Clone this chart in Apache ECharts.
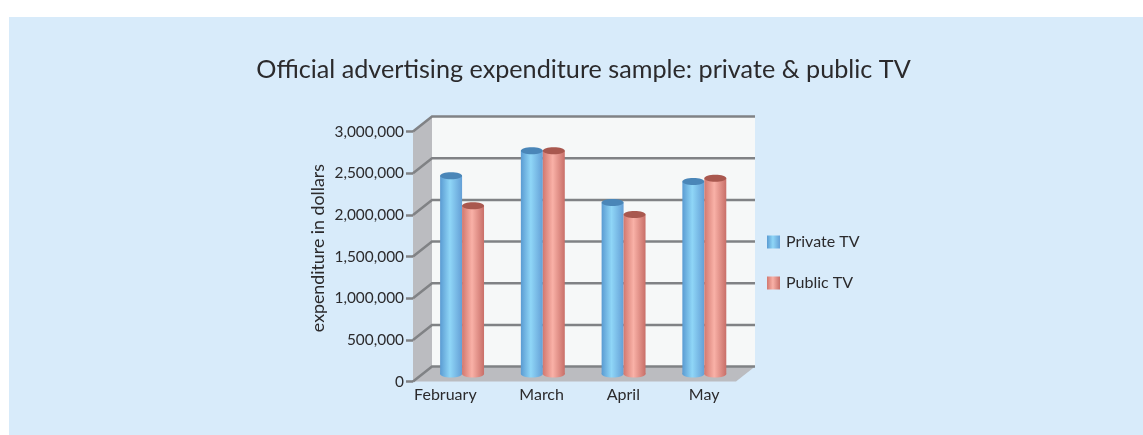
<!DOCTYPE html>
<html><head><meta charset="utf-8">
<style>html,body{margin:0;padding:0;background:#fff}#c{width:1143px;height:435px}</style>
<script src="https://cdn.jsdelivr.net/npm/echarts@6/dist/echarts.min.js"></script></head>
<body><div id="c"></div>
<script>
const titleText = 'Official advertising expenditure sample: private & public TV';
const yAxisName = 'expenditure in dollars';
const categories = ['February', 'March', 'April', 'May'];
const privateTV = [2380000, 2680000, 2060000, 2310000];
const publicTV = [2020000, 2680000, 1915000, 2350000];
const yTicks = [0, 500000, 1000000, 1500000, 2000000, 2500000, 3000000];

const FONT = 'Lato';
const INK = '#2b2a2c';
const DX = 19, DY = -15;           // depth of the 3D box
const grad = (a, b, c) => ({type:'linear',x:0,y:0,x2:1,y2:0,colorStops:[
  {offset:0,color:a},{offset:.45,color:b},{offset:1,color:c}]});
const blue = grad('#5a9bd2', '#8fd6f7', '#649fd6');
const red = grad('#d2786f', '#f9b1a7', '#c86f68');

function frameItem(params, api) {
  const cs = params.coordSys;
  const y = api.coord([0, api.value(0)])[1];
  const L = cs.x, R = cs.x + cs.width;
  const line = {stroke:'#808285', lineWidth:2.5, fill:null};
  const kids = [];
  if (params.dataIndex === 0) {
    const top = cs.y, bot = cs.y + cs.height;
    kids.push(
      {type:'rect', shape:{x:L+DX, y:top+DY, width:R-L, height:bot-top}, style:{fill:'#f6f8f8'}},
      {type:'polygon', shape:{points:[[L,top],[L+DX,top+DY],[L+DX,bot+DY],[L,bot]]}, style:{fill:'#bbbcc0'}},
      {type:'polygon', shape:{points:[[L,bot],[L+DX,bot+DY],[R+DX,bot+DY],[R,bot]]}, style:{fill:'#bbbcc0'}}
    );
  }
  kids.push({type:'polyline', shape:{points:[[L,y],[L+DX,y+DY],[R+DX,y+DY]]}, style:line});
  return {type:'group', children:kids};
}

function barItem(side, body, cap) {
  return function (params, api) {
    const p = api.coord([api.value(0), api.value(1)]);
    const b = api.coord([api.value(0), 0]);
    const w = api.size([1, 0])[0] * 0.272;
    const cx = p[0] + 8.7 + side * w / 2;
    const top = p[1] + DY / 2, base = b[1] + DY / 2;
    const ry = 3.5;
    return {type:'group', children:[
      {type:'rect', shape:{x:cx-w/2, y:top, width:w, height:base-top}, style:{fill:body}},
      {type:'ellipse', shape:{cx:cx, cy:base, rx:w/2, ry:ry}, style:{fill:body}},
      {type:'ellipse', shape:{cx:cx, cy:top, rx:w/2, ry:ry}, style:{fill:cap}}
    ]};
  };
}

const chart = echarts.init(document.getElementById('c'), null, {renderer:'canvas'});
chart.setOption({
  animation:false,
  graphic:[{type:'rect', z:-10, silent:true, shape:{x:9,y:17,width:1134,height:418}, style:{fill:'#d8ebfa'}}],
  title:{text:titleText, left:578.5, top:52, textAlign:'center',
    textStyle:{fontFamily:FONT, fontSize:25.2, fontWeight:'normal', color:INK}},
  legend:{orient:'vertical', left:767, top:234, padding:0, itemWidth:13, itemHeight:13, itemGap:25,
    icon:'rect', selectedMode:false,
    textStyle:{fontFamily:FONT, fontSize:16, color:INK, padding:[0,0,0,1]},
    data:[{name:'Private TV', itemStyle:{color:blue}},{name:'Public TV', itemStyle:{color:red}}]},
  grid:{left:413, top:131.6, width:323, height:250},
  xAxis:{type:'category', data:categories, axisLine:{show:false}, axisTick:{show:false},
    axisLabel:{interval:0, margin:5, fontFamily:FONT, fontSize:16, color:INK,
      formatter:(v,i)=>'{c'+i+'|'+v+'}',
      rich:{
        c0:{padding:[0,16,0,0],fontFamily:FONT,fontSize:16,color:INK},
        c1:{padding:[0,0,0,15],fontFamily:FONT,fontSize:16,color:INK},
        c2:{padding:[0,0,0,17],fontFamily:FONT,fontSize:16,color:INK},
        c3:{padding:[0,0,0,17],fontFamily:FONT,fontSize:16,color:INK}
      }}},
  yAxis:{type:'value', min:0, max:3000000, interval:500000,
    name:yAxisName, nameLocation:'middle', nameGap:86, nameRotate:90,
    nameTextStyle:{fontFamily:FONT, fontSize:17.8, color:INK, padding:[0,0,0,17]},
    splitLine:{show:false}, axisLine:{show:false},
    axisTick:{show:true, length:7, lineStyle:{color:'#808285', width:2.5}},
    axisLabel:{margin:9, fontFamily:FONT, fontSize:15.4, color:INK,
      formatter:v=>v.toLocaleString('en-US')}},
  series:[
    {type:'custom', name:'frame', silent:true, z:1, clip:false, renderItem:frameItem,
      data:yTicks.map(v=>[v]), encode:{y:0}},
    {type:'custom', name:'Private TV', silent:true, z:2, clip:false, renderItem:barItem(-1, blue, '#4a86b8'),
      itemStyle:{color:blue}, data:privateTV.map((v,i)=>[i,v]), encode:{x:0,y:1}},
    {type:'custom', name:'Public TV', silent:true, z:3, clip:false, renderItem:barItem(1, red, '#a9584f'),
      itemStyle:{color:red}, data:publicTV.map((v,i)=>[i,v]), encode:{x:0,y:1}}
  ]
});
</script></body></html>
